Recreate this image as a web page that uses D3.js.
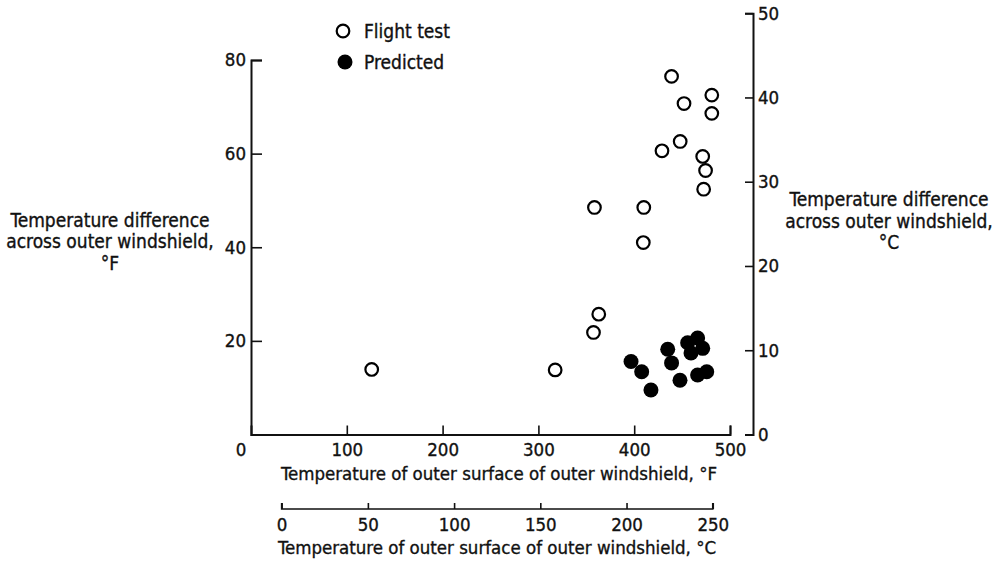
<!DOCTYPE html>
<html>
<head>
<meta charset="utf-8">
<script src="https://cdn.jsdelivr.net/npm/d3@7"></script>
<style>
body { margin: 0; background: #fff; }
svg text { font-family: "DejaVu Sans Condensed", "DejaVu Sans", sans-serif; font-stretch: condensed; fill: #111; stroke: #111; stroke-width: 0.35px; }
</style>
</head>
<body>
<div id="chart"></div>
<script>
let chart_width = 996;
let chart_height = 561;

// flight test points (deg F)
let flightTemp = [439, 481, 452, 481, 448, 429, 471.5, 474.5, 472.5, 358.5, 410, 409.5, 363, 357.5, 126, 317.5];
let flightDiff = [76.5, 72.5, 70.7, 68.6, 62.6, 60.6, 59.4, 56.4, 52.4, 48.5, 48.5, 41, 25.7, 21.8, 13.9, 13.8];
// predicted points (deg F)
let predTemp = [396.7, 407.8, 417.5, 435, 439, 447.8, 455.8, 466.2, 471.5, 459.3, 466.2, 475.7];
let predDiff = [15.6, 13.4, 9.5, 18.2, 15.3, 11.6, 19.6, 20.6, 18.4, 17.4, 12.7, 13.4];

let xTicksF = [100, 200, 300, 400, 500];
let xTicksC = [0, 50, 100, 150, 200, 250];
let yTicksF = [20, 40, 60, 80];
let yTicksC = [0, 10, 20, 30, 40, 50];

let xScale = d3.scaleLinear().domain([0, 500]).range([251, 730]);
let yScale = d3.scaleLinear().domain([0, 80]).range([434.5, 60]);
// same pixels, other units
let xScaleC = d3.scaleLinear().domain([(0 - 32) / 1.8, (500 - 32) / 1.8]).range([251, 730]);
let yScaleC = d3.scaleLinear().domain([0, 50]).range([yScale(0), yScale(90)]);

let svg = d3.select('#chart')
    .append('svg')
    .attr('width', chart_width)
    .attr('height', chart_height);

function styleAxis(g, fontSize){
    g.selectAll('path').attr('stroke', '#111').attr('stroke-width', 2);
    g.selectAll('line').attr('stroke', '#111').attr('stroke-width', 1.6);
    g.selectAll('text')
        .style('font-size', fontSize + 'px');
    g.attr('font-family', null).attr('font-size', null);
}

// left axis, deg F
let leftAxis = svg.append('g')
    .attr('transform', 'translate(' + xScale(0) + ',0)')
    .call(d3.axisLeft(yScale).tickValues(yTicksF).tickSizeInner(-11).tickSizeOuter(-11).tickPadding(5));
styleAxis(leftAxis, 18.5);

// right axis, deg C
let rightAxis = svg.append('g')
    .attr('transform', 'translate(753,0)')
    .call(d3.axisRight(yScaleC).tickValues(yTicksC).tickSizeInner(-8).tickSizeOuter(-8).tickPadding(5));
styleAxis(rightAxis, 18.5);

// bottom axis, deg F
let bottomAxis = svg.append('g')
    .attr('transform', 'translate(0,' + yScale(0) + ')')
    .call(d3.axisBottom(xScale).tickValues(xTicksF).tickSizeInner(-9).tickSizeOuter(-9).tickPadding(8));
styleAxis(bottomAxis, 18.5);

// shared zero label
svg.append('text')
    .text('0')
    .attr('x', 241)
    .attr('y', 455.5)
    .attr('text-anchor', 'middle')
    .style('font-size', '18.5px');

// second scale underneath, deg C
let cAxis = svg.append('g')
    .attr('transform', 'translate(0,509)')
    .call(d3.axisBottom(xScaleC).tickValues(xTicksC).tickSizeInner(-6).tickSizeOuter(-6).tickPadding(9));
cAxis.select('.domain').attr('d', 'M' + xScaleC(0) + ',-6V0H' + xScaleC(250) + 'V-6');
styleAxis(cAxis, 18.5);
cAxis.select('.domain').attr('stroke-width', 1.6);

svg.append('text')
    .text('Temperature of outer surface of outer windshield,  \u00b0F')
    .attr('x', 499)
    .attr('y', 480)
    .attr('text-anchor', 'middle')
    .style('font-size', '18.5px');

svg.append('text')
    .text('Temperature of outer surface of outer windshield,  \u00b0C')
    .attr('x', 497)
    .attr('y', 554)
    .attr('text-anchor', 'middle')
    .style('font-size', '18.5px');

// y titles
let leftTitle = ['Temperature difference', 'across outer windshield,', '\u00b0F'];
svg.append('g')
    .selectAll('text')
    .data(leftTitle)
    .enter()
    .append('text')
    .text(d => d)
    .attr('x', 110)
    .attr('y', (d, i) => 226.5 + i * 21.5)
    .attr('text-anchor', 'middle')
    .style('font-size', '19px');

let rightTitle = ['Temperature difference', 'across outer windshield,', '\u00b0C'];
svg.append('g')
    .selectAll('text')
    .data(rightTitle)
    .enter()
    .append('text')
    .text(d => d)
    .attr('x', 889)
    .attr('y', (d, i) => 206 + i * 21.5)
    .attr('text-anchor', 'middle')
    .style('font-size', '19px');

// points
let flight = flightTemp.map((t, i) => ({t: t, d: flightDiff[i]}));
let pred = predTemp.map((t, i) => ({t: t, d: predDiff[i]}));

svg.append('g')
    .selectAll('circle')
    .data(pred)
    .enter()
    .append('circle')
    .attr('cx', d => xScale(d.t))
    .attr('cy', d => yScale(d.d))
    .attr('r', 7.5)
    .attr('fill', '#000');

svg.append('g')
    .selectAll('circle')
    .data(flight)
    .enter()
    .append('circle')
    .attr('cx', d => xScale(d.t))
    .attr('cy', d => yScale(d.d))
    .attr('r', 6.3)
    .attr('fill', '#fff')
    .attr('stroke', '#000')
    .attr('stroke-width', 2.2);

// legend
let legend = svg.append('g');
legend.append('circle')
    .attr('cx', 343).attr('cy', 31).attr('r', 6.3)
    .attr('fill', '#fff').attr('stroke', '#000').attr('stroke-width', 2.2);
legend.append('text')
    .text('Flight test')
    .attr('x', 364).attr('y', 37.5)
    .style('font-size', '19px');
legend.append('circle')
    .attr('cx', 345).attr('cy', 62).attr('r', 7.5)
    .attr('fill', '#000');
legend.append('text')
    .text('Predicted')
    .attr('x', 364).attr('y', 68.5)
    .style('font-size', '19px');
</script>
</body>
</html>
